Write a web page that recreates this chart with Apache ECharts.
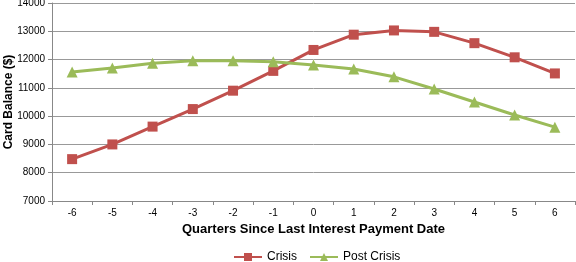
<!DOCTYPE html>
<html><head><meta charset="utf-8">
<script src="https://cdn.jsdelivr.net/npm/echarts@6/dist/echarts.min.js"></script>
<style>html,body{margin:0;padding:0;background:#fff}#c{width:576px;height:262px}</style>
</head><body><div id="c"></div>
<script>
const categories = ['-6','-5','-4','-3','-2','-1','0','1','2','3','4','5','6'];
const crisis = [8480, 9000, 9630, 10250, 10900, 11600, 12340, 12880, 13030, 12980, 12580, 12080, 11510];
const postCrisis = [11560, 11700, 11870, 11960, 11960, 11920, 11810, 11670, 11390, 10960, 10500, 10040, 9610];
const chart = echarts.init(document.getElementById('c'));
const font = 'Liberation Sans, Arial, sans-serif';
chart.setOption({
  animation: false,
  textStyle: {fontFamily: font},
  grid: {left: 52, right: 1, top: 3, bottom: 61, containLabel: false, outerBoundsMode: 'none'},
  legend: {
    top: 246, left: 228, itemGap: 12, itemWidth: 28, itemHeight: 10,
    textStyle: {fontSize: 12, color: '#000', fontFamily: font},
    data: ['Crisis', 'Post Crisis']
  },
  xAxis: {
    type: 'category', data: categories, boundaryGap: true,
    name: 'Quarters Since Last Interest Payment Date', nameLocation: 'middle', nameGap: 22,
    nameMoveOverlap: false,
    nameTextStyle: {fontSize: 13, fontWeight: 'bold', color: '#000'},
    axisLine: {lineStyle: {color: '#888'}},
    axisTick: {show: true, length: 4, lineStyle: {color: '#888'}},
    axisLabel: {fontSize: 10, color: '#000', margin: 7}
  },
  yAxis: {
    type: 'value', min: 7000, max: 14000, interval: 1000,
    name: 'Card Balance ($)', nameLocation: 'middle', nameGap: 37,
    nameMoveOverlap: false,
    nameTextStyle: {fontSize: 12, fontWeight: 'bold', color: '#000'},
    axisLine: {show: true, lineStyle: {color: '#888'}},
    axisTick: {show: true, length: 4, lineStyle: {color: '#888'}},
    axisLabel: {fontSize: 10, color: '#000', margin: 7, formatter: v => String(v)},
    splitLine: {lineStyle: {color: '#999'}}
  },
  series: [
    {name: 'Crisis', type: 'line', data: crisis, symbol: 'rect', symbolSize: 10,
     lineStyle: {color: '#c0504d', width: 3}, itemStyle: {color: '#c0504d'}},
    {name: 'Post Crisis', type: 'line', data: postCrisis, symbol: 'triangle', symbolSize: 11,
     lineStyle: {color: '#9bbb59', width: 3}, itemStyle: {color: '#9bbb59'}}
  ]
});
</script></body></html>
